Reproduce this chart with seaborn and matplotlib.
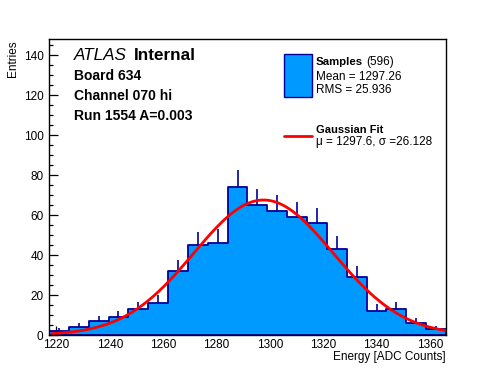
import numpy as np
import pandas as pd
import matplotlib.pyplot as plt
from matplotlib.patches import Rectangle
from matplotlib.lines import Line2D
import seaborn as sns

sns.set_theme(style="white")
plt.rcParams['font.family'] = ['Liberation Sans', 'DejaVu Sans']
plt.rcParams['text.color'] = 'black'

# Histogram data (20 bins)
x_min, x_max = 1217.2, 1366.0
counts = [2, 4, 7, 9, 13, 16, 32, 45, 46, 74,
          65, 62, 59, 56, 43, 29, 12, 13, 6, 3]
# Gaussian fit parameters
fit_mu, fit_sigma, fit_amp = 1297.6, 26.128, 67.5

x_ticks = [1220, 1240, 1260, 1280, 1300, 1320, 1340, 1360]
y_ticks = [0, 20, 40, 60, 80, 100, 120, 140]

fill_color = '#0099ff'
edge_color = '#000099'

edges = np.linspace(x_min, x_max, len(counts) + 1)
centers = (edges[:-1] + edges[1:]) / 2
df = pd.DataFrame({'energy': centers, 'n': counts})

W, H = 496, 372
fig = plt.figure(figsize=(W / 100, H / 100), dpi=100)
ax = fig.add_axes([49 / W, 1 - 335 / H, (446 - 49) / W, (335 - 39) / H])

sns.histplot(data=df, x='energy', weights='n', bins=edges.tolist(), element='step',
             fill=True, alpha=1, color=fill_color, edgecolor=edge_color,
             linewidth=1.3, ax=ax)

# error bars (upper half, like ROOT draws over the fill)
err = np.sqrt(df['n'])
ax.vlines(df['energy'], df['n'], df['n'] + err, color=edge_color, lw=1.2)

# gaussian fit curve
xs = np.linspace(x_min + 1, x_max, 300)
fit = pd.DataFrame({'x': xs, 'y': fit_amp * np.exp(-0.5 * ((xs - fit_mu) / fit_sigma) ** 2)})
sns.lineplot(data=fit, x='x', y='y', color='red', lw=2, ax=ax)

ax.set_xlim(x_min, x_max)
ax.set_ylim(0, 148)
ax.set_xticks(x_ticks)
ax.set_yticks(y_ticks)
ax.set_xticks(np.arange(1220, 1366, 5), minor=True)
ax.set_yticks(np.arange(0, 148, 5), minor=True)
ax.tick_params(which='both', direction='in', top=False, right=False,
               bottom=True, left=True, labelsize=8.5, colors='black')
ax.tick_params(which='major', length=6.5, width=0.9)
ax.tick_params(which='minor', length=3.2, width=0.9)
ax.tick_params(axis='x', pad=3)
ax.tick_params(axis='y', pad=4)
ax.set_xlabel('')
ax.set_ylabel('')
for s in ax.spines.values():
    s.set_color('black')
    s.set_linewidth(1)
ax.grid(False)


def fx(px):
    return px / W


def fy(py):
    return 1 - py / H


fig.text(fx(446), fy(360), 'Energy [ADC Counts]', ha='right', va='baseline', fontsize=8.5)
fig.text(fx(13), fy(40), 'Entries', rotation=90, ha='center', va='top', fontsize=8.5)

# ATLAS label
fig.text(fx(74), fy(60.5), 'ATLAS', style='italic', fontsize=12.3, va='baseline')
fig.text(fx(134), fy(60.5), 'Internal', weight='bold', fontsize=12.3, va='baseline')
fig.text(fx(74), fy(80), 'Board 634', weight='bold', fontsize=10, va='baseline')
fig.text(fx(74), fy(100), 'Channel 070 hi', weight='bold', fontsize=10, va='baseline')
fig.text(fx(74), fy(120), 'Run 1554 A=0.003', weight='bold', fontsize=10, va='baseline')

# legend
fig.patches.append(Rectangle((fx(283.5), fy(96.5)), fx(311.5) - fx(283.5), fy(53.5) - fy(96.5),
                             transform=fig.transFigure, facecolor=fill_color,
                             edgecolor=edge_color, lw=1))
fig.text(fx(316), fy(65), 'Samples', weight='bold', fontsize=8.2, va='baseline')
fig.text(fx(366.5), fy(65), '(596)', fontsize=8.5, va='baseline')
fig.text(fx(316), fy(80), 'Mean = 1297.26', fontsize=8.5, va='baseline')
fig.text(fx(316), fy(92.7), 'RMS = 25.936', fontsize=8.5, va='baseline')

fig.lines.append(Line2D([fx(283.5), fx(311.5)], [fy(136), fy(136)],
                        transform=fig.transFigure, color='red', lw=2))
fig.text(fx(316), fy(132.7), 'Gaussian Fit', weight='bold', fontsize=8, va='baseline')
fig.text(fx(316), fy(144.5), 'μ = 1297.6, σ =26.128', fontsize=8.5, va='baseline')

fig.savefig('out.png', dpi=100, facecolor='white')
